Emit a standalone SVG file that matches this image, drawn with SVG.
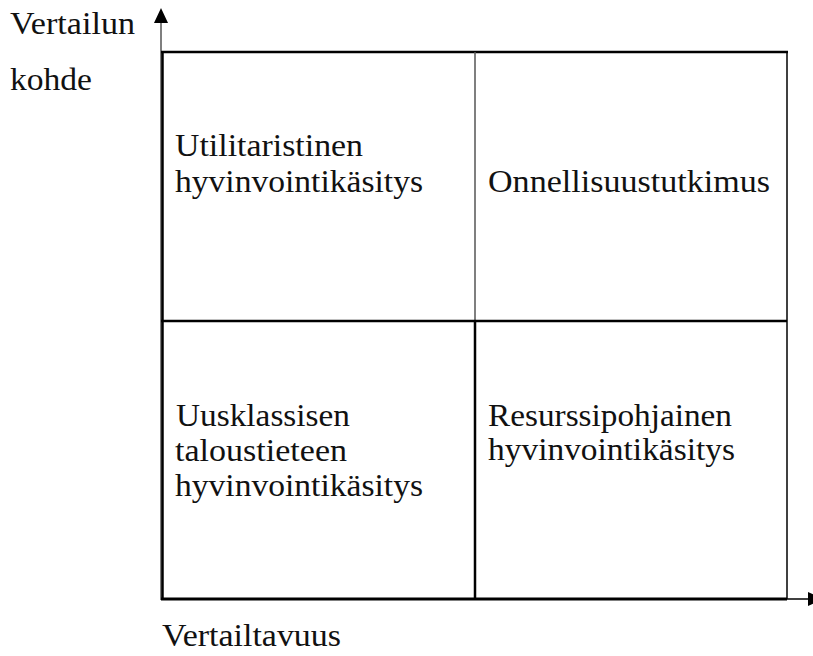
<svg xmlns="http://www.w3.org/2000/svg" width="813" height="656" viewBox="0 0 813 656">
<style>
  text { font-family: "Liberation Serif", "Times New Roman", serif; font-size: 32px; fill: #111; }
  .thick { stroke: #000; stroke-width: 2.5; fill: none; }
  .thin { stroke: #000; stroke-width: 1.5; fill: none; }
  .grey { stroke: #555; stroke-width: 1.5; fill: none; }
</style>
<rect width="813" height="656" fill="#fff"/>
<g id="connectors">
  <line class="grey" x1="161" y1="600" x2="161" y2="20"/>
  <polygon points="161,8 154,23 168,23" fill="#000"/>
  <line class="thin" x1="786" y1="599" x2="810" y2="599"/>
  <polygon points="808,592 808,606 823,599" fill="#000"/>
  <line class="thick" x1="162.5" y1="52" x2="162.5" y2="600"/>
  <line class="thick" x1="161" y1="52" x2="788" y2="52"/>
  <line class="thin" x1="787" y1="52" x2="787" y2="599"/>
  <line class="grey" x1="475" y1="52" x2="475" y2="321"/>
  <line class="thick" x1="475" y1="321" x2="475" y2="599"/>
  <line class="thick" x1="161" y1="321" x2="787" y2="321"/>
  <line stroke="#000" stroke-width="3" x1="161" y1="599" x2="787" y2="599"/>
</g>
<g id="axis-y-label">
  <text x="10" y="34" textLength="125" lengthAdjust="spacingAndGlyphs">Vertailun</text>
  <text x="10" y="90" textLength="82" lengthAdjust="spacingAndGlyphs">kohde</text>
</g>
<g id="axis-x-label">
  <text x="162" y="646" textLength="179" lengthAdjust="spacingAndGlyphs">Vertailtavuus</text>
</g>
<g id="node-utilitaristinen">
  <text x="175" y="156" textLength="188" lengthAdjust="spacingAndGlyphs">Utilitaristinen</text>
  <text x="175" y="192" textLength="248" lengthAdjust="spacingAndGlyphs">hyvinvointikäsitys</text>
</g>
<g id="node-onnellisuus">
  <text x="488" y="192" textLength="282" lengthAdjust="spacingAndGlyphs">Onnellisuustutkimus</text>
</g>
<g id="node-uusklassinen">
  <text x="176" y="426" textLength="174" lengthAdjust="spacingAndGlyphs">Uusklassisen</text>
  <text x="175" y="461" textLength="172" lengthAdjust="spacingAndGlyphs">taloustieteen</text>
  <text x="175" y="496" textLength="248" lengthAdjust="spacingAndGlyphs">hyvinvointikäsitys</text>
</g>
<g id="node-resurssi">
  <text x="488" y="426" textLength="244" lengthAdjust="spacingAndGlyphs">Resurssipohjainen</text>
  <text x="488" y="460" textLength="247" lengthAdjust="spacingAndGlyphs">hyvinvointikäsitys</text>
</g>
</svg>
